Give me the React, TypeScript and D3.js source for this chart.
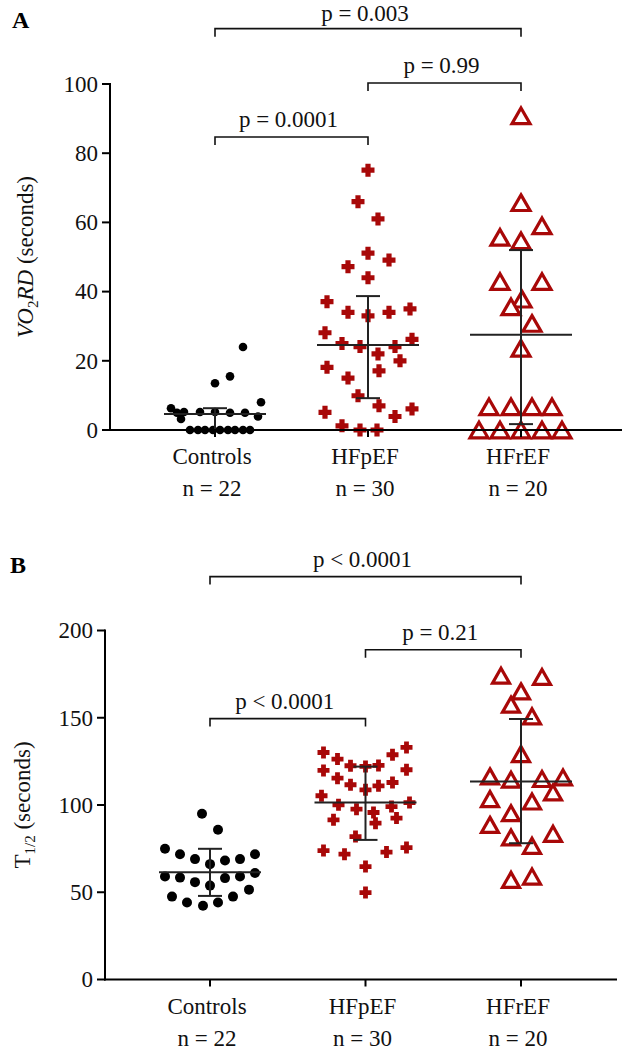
import React from 'react';
import * as d3 from 'd3';

// ---------- data ----------
const categories = ['Controls', 'HFpEF', 'HFrEF'];
const groupSizes = ['n = 22', 'n = 30', 'n = 20'];

// Panel A: VO2RD (seconds)
const aControls = [24, 15.5, 13.5, 8, 6.3, 5, 3.2, 5.2, 5.2, 5.2, 5, 5, 3.9, 0, 0, 0, 0, 0, 0, 0, 0, 0];
const aControlsJitter = [0.56, 0.3, 0, 0.92, -0.88, -0.76, -0.68, -0.62, -0.3, 0, 0.3, 0.6, 0.86, -0.5, -0.34, -0.2, -0.04, 0.1, 0.26, 0.4, 0.56, 0.7];
const aHFpEF = [75.1, 66, 61, 51.1, 49.1, 47.2, 44, 37.1, 34, 33, 34, 35, 28.1, 25, 24.1, 22, 24.1, 26.2, 20, 18.1, 17.1, 15, 9.9, 7, 5.1, 3.9, 6.1, 1.2, 0, 0];
const aHFpEFJitter = [0, -0.2, 0.2, 0, 0.42, -0.4, 0, -0.82, -0.4, 0, 0.42, 0.84, -0.86, -0.52, -0.16, 0.2, 0.54, 0.88, 0.64, -0.82, 0.22, -0.4, -0.2, 0.22, -0.86, 0.54, 0.88, -0.52, -0.16, 0.18];
const aHFrEF = [90.8, 65.7, 55.7, 54.7, 59, 42.9, 42.9, 37.8, 35.6, 30.8, 23.6, 6.7, 6.7, 6.7, 6.7, 0, 0, 0, 0, 0];
const aHFrEFJitter = [0, 0, -0.42, 0, 0.42, -0.42, 0.42, 0.02, -0.2, 0.22, 0, -0.64, -0.2, 0.22, 0.62, -0.84, -0.42, 0, 0.42, 0.82];
const aMedian = [4.6, 24.6, 27.5];
const aQ1 = [0, 9.2, 1.7];
const aQ3 = [6.3, 38.7, 52];
const aTicks = [0, 20, 40, 60, 80, 100];
const aBrackets = [
  { from: 0, to: 2, y: 116, label: 'p = 0.003' },
  { from: 1, to: 2, y: 100.3, label: 'p = 0.99' },
  { from: 0, to: 1, y: 84.7, label: 'p = 0.0001' },
];

// Panel B: T1/2 (seconds)
const bControls = [95, 85.8, 74.9, 71.8, 69, 66.1, 68.2, 69, 71.8, 59, 58.4, 55.8, 53.8, 58.1, 59, 61, 47.5, 44.1, 42.3, 44.1, 47.5, 51.5];
const bControlsJitter = [-0.16, 0.16, -0.9, -0.6, -0.3, 0, 0.3, 0.6, 0.9, -0.9, -0.6, -0.3, 0, 0.3, 0.6, 0.9, -0.76, -0.46, -0.14, 0.16, 0.46, 0.78];
const bHFpEF = [130.1, 126.3, 122.5, 122.1, 122.7, 128.8, 133, 119.8, 120.2, 115.4, 111.6, 108.7, 111, 112.9, 105.3, 100.1, 97.6, 95.7, 99.1, 101.4, 91.5, 89.6, 92.5, 81.9, 73.9, 71.8, 73, 75.6, 64.7, 49.8];
const bHFpEFJitter = [-0.84, -0.56, -0.3, 0, 0.26, 0.54, 0.82, -0.84, 0.82, -0.56, -0.3, 0, 0.26, 0.54, -0.88, -0.54, -0.18, 0.16, 0.52, 0.88, -0.64, 0.2, 0.62, -0.2, -0.84, -0.42, 0.42, 0.82, 0, 0];
const bHFrEF = [174.1, 173.4, 165.1, 157.5, 150.8, 129.2, 116.4, 114.5, 114.9, 115.8, 107.2, 103.4, 102, 95.3, 88.6, 81.4, 83.5, 76.6, 57.1, 59];
const bHFrEFJitter = [-0.4, 0.42, 0, -0.2, 0.22, 0, -0.62, -0.2, 0.42, 0.84, 0.64, -0.62, 0.22, -0.2, -0.62, -0.2, 0.64, 0.22, -0.2, 0.22];
const bMedian = [61.5, 101.4, 113.5];
const bQ1 = [47.9, 80, 78.1];
const bQ3 = [74.9, 122, 149.3];
const bTicks = [0, 50, 100, 150, 200];
const bBrackets = [
  { from: 0, to: 2, y: 230.9, label: 'p < 0.0001' },
  { from: 1, to: 2, y: 189, label: 'p = 0.21' },
  { from: 0, to: 1, y: 149.5, label: 'p < 0.0001' },
];

// ---------- drawing ----------
const RED = '#a80808';
const FONT = '"Liberation Serif", "Times New Roman", serif';

type Bracket = { from: number; to: number; y: number; label: string };
type Sizes = { dotR: number; cross: number; triW: number; triH: number };

function Marker({ kind, x, y, sz }: { kind: string; x: number; y: number; sz: Sizes }) {
  if (kind === 'dot') return <circle cx={x} cy={y} r={sz.dotR} fill="#000" />;
  if (kind === 'cross') {
    const h = sz.cross / 2;
    const t = sz.cross * 0.2;
    const d = `M${x - t},${y - h}H${x + t}V${y - t}H${x + h}V${y + t}H${x + t}V${y + h}H${x - t}V${y + t}H${x - h}V${y - t}H${x - t}Z`;
    return <path d={d} fill={RED} />;
  }
  const w = sz.triW;
  const hh = sz.triH;
  const d = `M${x},${y - hh}L${x + w},${y + hh}L${x - w},${y + hh}Z`;
  return <path d={d} fill="#fff" stroke={RED} strokeWidth={3.2} strokeLinejoin="miter" />;
}

function Panel(props: {
  letter: string; letterX: number; letterY: number;
  top: number; bottom: number; axisX: number; axisRight: number;
  cx0: number; cx1: number; yMax: number; ticks: number[];
  series: { values: number[]; jitter: number[]; kind: string }[];
  med: number[]; q1: number[]; q3: number[]; brackets: Bracket[];
  sizes: Sizes; yLabel: React.ReactNode; yLabelX: number;
}) {
  const { top, bottom, axisX, axisRight } = props;
  const y = d3.scaleLinear().domain([0, props.yMax]).range([bottom, top]);
  const x = d3.scalePoint<string>().domain(categories).range([props.cx0, props.cx1]);
  const jit = d3.scaleLinear().domain([-1, 1]).range([-50, 50]);
  const midY = (top + bottom) / 2;
  return (
    <g>
      <text x={props.letterX} y={props.letterY} fontWeight="bold" fontSize={24}>{props.letter}</text>
      {props.series.map((s, gi) =>
        s.values.map((v, i) => (
          <Marker key={`${gi}-${i}`} kind={s.kind} x={(x(categories[gi]) as number) + jit(s.jitter[i])} y={y(v)} sz={props.sizes} />
        ))
      )}
      {categories.map((c, i) => {
        const cx = x(c) as number;
        return (
          <g key={c} stroke="#222" strokeWidth={2}>
            <line x1={cx - 51} x2={cx + 51} y1={y(props.med[i])} y2={y(props.med[i])} />
            <line x1={cx} x2={cx} y1={y(props.q1[i])} y2={y(props.q3[i])} />
            <line x1={cx - 12} x2={cx + 12} y1={y(props.q1[i])} y2={y(props.q1[i])} />
            <line x1={cx - 12} x2={cx + 12} y1={y(props.q3[i])} y2={y(props.q3[i])} />
          </g>
        );
      })}
      <g stroke="#000" strokeWidth={2}>
        <line x1={axisX} x2={axisX} y1={top - 1} y2={bottom + 1} />
        <line x1={axisX - 1} x2={axisRight} y1={bottom} y2={bottom} />
        {props.ticks.map((t) => (
          <line key={t} x1={axisX - 8} x2={axisX} y1={y(t)} y2={y(t)} />
        ))}
        {categories.map((c) => (
          <line key={c} x1={x(c) as number} x2={x(c) as number} y1={bottom} y2={bottom + 7} />
        ))}
      </g>
      {props.ticks.map((t) => (
        <text key={t} x={axisX - 12} y={y(t)} dy="0.34em" textAnchor="end" fontSize={23} fill="#111">{t}</text>
      ))}
      {categories.map((c, i) => (
        <g key={c} fontSize={23} fill="#111" textAnchor="middle">
          <text x={(x(c) as number) - 3} y={bottom + 34}>{c}</text>
          <text x={(x(c) as number) - 3} y={bottom + 66}>{groupSizes[i]}</text>
        </g>
      ))}
      <text transform={`translate(${props.yLabelX},${midY}) rotate(-90)`} textAnchor="middle" fontSize={23} fill="#111">
        {props.yLabel}
      </text>
      {props.brackets.map((b, i) => {
        const x1 = x(categories[b.from]) as number;
        const x2 = x(categories[b.to]) as number;
        const yy = y(b.y);
        return (
          <g key={i}>
            <path d={`M${x1},${yy + 8}V${yy}H${x2}V${yy + 8}`} fill="none" stroke="#111" strokeWidth={1.6} />
            <text x={(x1 + x2) / 2 - 3} y={Math.max(yy - 10, 21)} textAnchor="middle" fontSize={23} fill="#111">{b.label}</text>
          </g>
        );
      })}
    </g>
  );
}

export default function App() {
  return (
    <svg width={631} height={1050} style={{ position: 'absolute', left: 0, top: 0, background: '#fff' }} fontFamily={FONT}>
      <rect width={631} height={1050} fill="#fff" />
      <Panel
        letter="A" letterX={12} letterY={28}
        top={84} bottom={430} axisX={110} axisRight={622}
        cx0={215} cx1={521} yMax={100} ticks={aTicks}
        series={[
          { values: aControls, jitter: aControlsJitter, kind: 'dot' },
          { values: aHFpEF, jitter: aHFpEFJitter, kind: 'cross' },
          { values: aHFrEF, jitter: aHFrEFJitter, kind: 'tri' },
        ]}
        med={aMedian} q1={aQ1} q3={aQ3} brackets={aBrackets}
        sizes={{ dotR: 4.3, cross: 13, triW: 9, triH: 7.8 }} yLabelX={33}
        yLabel={<>
          <tspan fontStyle="italic">VO</tspan>
          <tspan fontSize={15} dy={5}>2</tspan>
          <tspan fontStyle="italic" dy={-5}>RD</tspan>
          <tspan> (seconds)</tspan>
        </>}
      />
      <Panel
        letter="B" letterX={10} letterY={573}
        top={630.5} bottom={979.5} axisX={105} axisRight={617}
        cx0={210} cx1={521} yMax={200} ticks={bTicks}
        series={[
          { values: bControls, jitter: bControlsJitter, kind: 'dot' },
          { values: bHFpEF, jitter: bHFpEFJitter, kind: 'cross' },
          { values: bHFrEF, jitter: bHFrEFJitter, kind: 'tri' },
        ]}
        med={bMedian} q1={bQ1} q3={bQ3} brackets={bBrackets}
        sizes={{ dotR: 5, cross: 12, triW: 8.5, triH: 7.5 }} yLabelX={30}
        yLabel={<>
          <tspan>T</tspan>
          <tspan fontSize={15} dy={5}>1/2</tspan>
          <tspan dy={-5}> (seconds)</tspan>
        </>}
      />
    </svg>
  );
}
